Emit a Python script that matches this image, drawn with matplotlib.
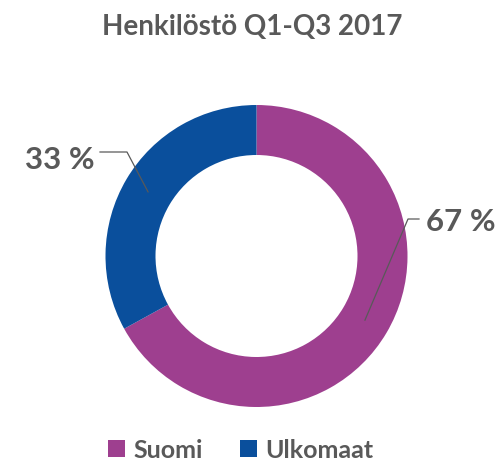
import matplotlib.pyplot as plt
import numpy as np

# data
labels = ['Suomi', 'Ulkomaat']
values = [67, 33]
colors = ['#9E3F8F', '#0A4F9C']
title = 'Henkilöstö Q1-Q3 2017'

plt.rcParams['font.family'] = ['Lato', 'DejaVu Sans']
grey = '#595959'

W, H = 504, 464
fig = plt.figure(figsize=(W / 100, H / 100), dpi=100)
ax = fig.add_axes([0, 0, 1, 1])

cx, cy, R = 256.5, H - 257, 151
wedges, _ = ax.pie(values, colors=colors, startangle=90, counterclock=False,
                   center=(cx, cy), radius=R,
                   wedgeprops=dict(width=50, edgecolor='white', linewidth=0))
ax.set_xlim(0, W)
ax.set_ylim(0, H)
ax.set_aspect('equal')
ax.axis('off')

# data labels with leader lines
label_pos = {'Suomi': (461, H - 222), 'Ulkomaat': (60, H - 160)}
elbow = {'Suomi': (408, H - 220), 'Ulkomaat': (127, H - 153)}
knee = {'Suomi': (419, H - 220), 'Ulkomaat': (100, H - 153)}
for w, lab, v in zip(wedges, labels, values):
    ang = np.deg2rad((w.theta1 + w.theta2) / 2)
    r = R - 25
    px, py = cx + r * np.cos(ang), cy + r * np.sin(ang)
    ex, ey = elbow[lab]
    kx, ky = knee[lab]
    ax.plot([px, ex, kx], [py, ey, ky], color=grey, lw=0.9)
    tx, ty = label_pos[lab]
    ax.text(tx, ty, '{} %'.format(v), ha='center', va='center',
            fontsize=22.5, fontweight='bold', color=grey)

fig.text(0.5, 1 - 27 / H, title, ha='center', va='center',
         fontsize=20, fontweight='bold', color=grey)

leg = fig.legend(wedges, labels, loc='center', bbox_to_anchor=(241 / W, 1 - 451 / H),
                 ncol=2, frameon=False, handlelength=0.65,
                 handleheight=0.65, handletextpad=0.35, columnspacing=1.5,
                 prop=dict(size=18, weight='bold'))
for t in leg.get_texts():
    t.set_color(grey)

plt.savefig('out.png', dpi=100, facecolor='white')
